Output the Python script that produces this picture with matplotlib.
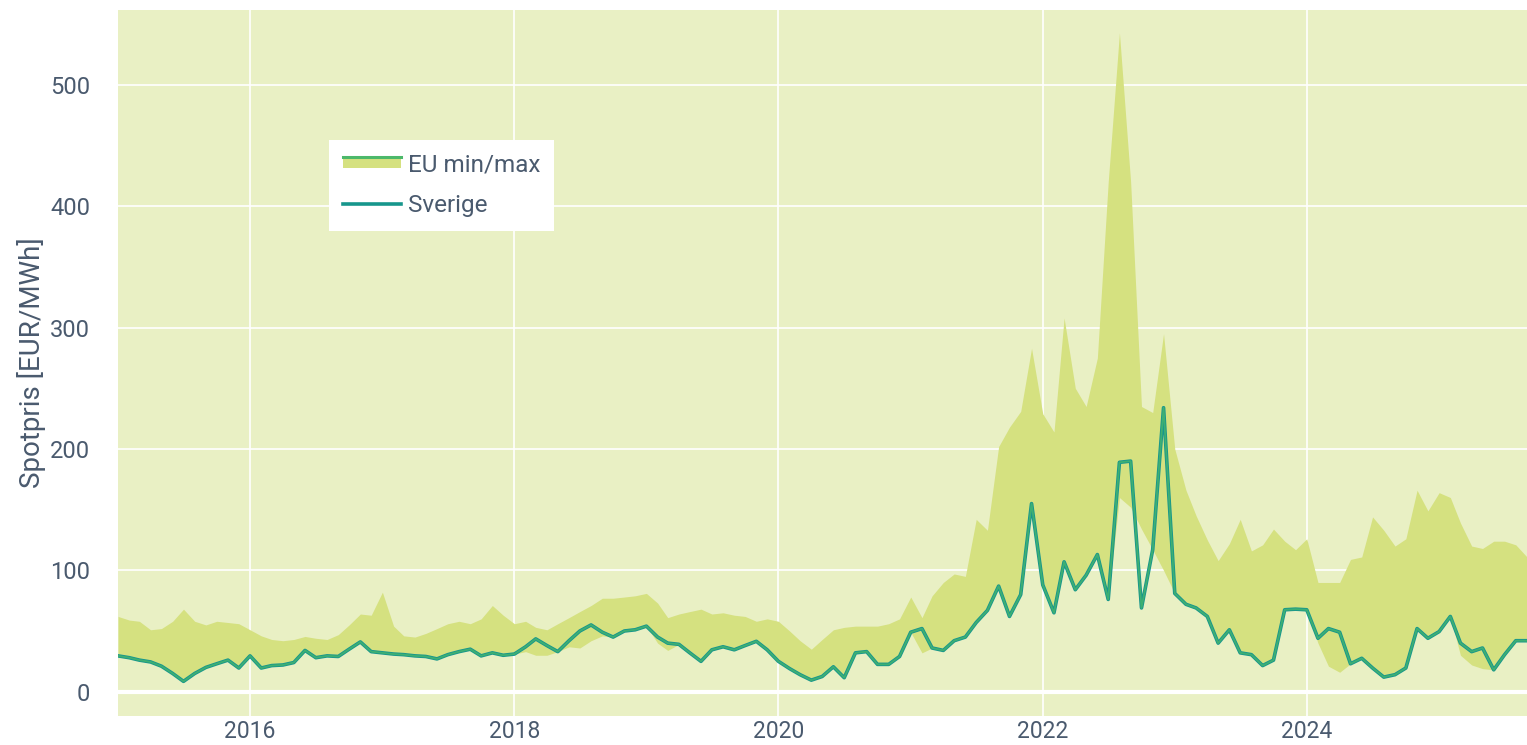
import numpy as np
import pandas as pd
import matplotlib
matplotlib.use("Agg")
import matplotlib.pyplot as plt
import matplotlib.dates as mdates
from matplotlib.patches import Rectangle, Patch
from matplotlib.lines import Line2D
from matplotlib.legend_handler import HandlerBase

plt.rcParams['font.family'] = ['Roboto', 'DejaVu Sans']

# monthly values, Jan 2015 - Sep 2025 (EUR/MWh)
months = pd.date_range('2015-01-01', periods=129, freq='MS')

sverige = [
    29.5, 28, 26, 24.5, 21, 15, 8.5, 15, 20, 23, 26, 19.5,
    29.5, 19.5, 21.5, 22, 24, 34, 28, 29.5, 29, 35, 41, 33,
    32, 31, 30.5, 29.5, 29, 27, 30.5, 33, 35, 29.5, 32, 30,
    31, 37, 43.5, 38, 33, 42, 50, 55, 49, 45, 50, 51,
    54, 45, 40, 39, 32, 25, 34.5, 37, 34.5, 38, 41.5, 34.5,
    25, 19, 14, 9.5, 12.5, 20.5, 11.5, 32, 33, 22.5, 22.5, 29,
    49, 52, 36, 34, 42, 45, 57, 67, 87, 62, 80, 155,
    88, 65, 107, 84, 96, 113, 76, 189, 190, 69, 117, 234,
    81, 72, 69, 62, 40, 51, 32, 30.5, 21.5, 26, 67.5, 68,
    67.5, 44, 52, 49, 23, 27.5, 19.5, 12, 14, 19.5, 52, 44,
    49.5, 62, 40, 33, 36, 18, 30.5, 42, 42,
]

eu_max = [
    62, 59, 58, 51, 52, 58, 68, 58, 55, 58, 57, 56,
    51, 46, 43, 42, 43, 45.5, 44, 43, 47, 55, 64, 63,
    82, 54, 46, 45, 48, 52, 56, 58, 56, 60, 71, 63,
    56, 58, 53, 51, 56, 61, 66, 71, 77, 77, 78, 79,
    81, 73, 61, 64, 66, 68, 64, 65, 63, 62, 58, 60,
    58, 50, 42, 35, 43, 51, 53, 54, 54, 54, 56, 60,
    78, 61, 79, 90, 97, 95, 142, 133, 202, 218, 231, 283,
    229, 214, 308, 250, 235, 275, 420, 543, 420, 235, 230, 295,
    200, 166, 145, 125, 108, 122, 142, 116, 121, 134, 124, 117,
    126, 90, 90, 90, 109, 111, 144, 133, 120, 126, 166, 149,
    164, 160, 139, 120, 118, 124, 124, 121, 111,
]

eu_min = [
    29.5, 28, 26, 24.5, 21, 15, 8.5, 15, 20, 23, 26, 19.5,
    29.5, 19.5, 21.5, 22, 24, 34, 28, 29.5, 29, 35, 41, 33,
    32, 31, 30.5, 29.5, 29, 27, 30.5, 33, 35, 29.5, 32, 30,
    31, 33, 30, 30, 33, 37, 36, 42, 46, 45, 50, 51,
    54, 40, 34, 39, 32, 25, 34.5, 37, 34.5, 38, 41.5, 34.5,
    25, 19, 14, 9.5, 12.5, 20.5, 11.5, 32, 33, 22.5, 22.5, 29,
    49, 32, 36, 34, 42, 45, 57, 67, 87, 62, 80, 155,
    88, 65, 107, 84, 96, 113, 76, 160, 152, 134, 117, 100,
    81, 72, 69, 62, 40, 51, 32, 30.5, 21.5, 26, 67.5, 68,
    67.5, 40, 21, 16, 23, 27.5, 19.5, 12, 14, 19.5, 52, 44,
    49.5, 62, 30, 22, 19, 18, 30.5, 42, 42,
]

bg_color = '#e9f0c4'
band_color = '#d5e180'
teal = '#17968c'
green = '#4cb86a'
text_color = '#4a5a6e'


class BandHandler(HandlerBase):
    def create_artists(self, legend, orig_handle, xdescent, ydescent,
                       width, height, fontsize, trans):
        top = -ydescent + height * 0.85
        r = Rectangle((-xdescent, -ydescent + height * 0.15), width, height * 0.7,
                      facecolor=band_color, edgecolor='none', transform=trans)
        l = Line2D([-xdescent, -xdescent + width], [top, top],
                   color=green, lw=2.2, transform=trans)
        return [r, l]


fig = plt.figure(figsize=(15.27, 7.45), dpi=100)
ax = fig.add_axes([0.0773, 0.039, 0.9227, 0.948])
ax.set_facecolor(bg_color)

ax.fill_between(months, eu_min, eu_max, color=band_color, lw=0, zorder=2)
ax.plot(months, sverige, color=teal, lw=2.6, zorder=3)
ax.plot(months, sverige, color=green, lw=1.3, alpha=0.75, zorder=4)

ax.set_xlim(months[0], months[-1])
ax.set_ylim(-20, 562)
ax.set_yticks([0, 100, 200, 300, 400, 500])
ax.xaxis.set_major_locator(mdates.YearLocator(2))
ax.xaxis.set_major_formatter(mdates.DateFormatter('%Y'))

ax.grid(True, color='white', lw=1.2, zorder=1)
ax.set_axisbelow(True)
ax.axhline(0, color='white', lw=3, zorder=1.5)
for s in ax.spines.values():
    s.set_visible(False)
ax.tick_params(axis='both', length=0, labelsize=17, labelcolor=text_color)
ax.tick_params(axis='y', pad=20)
ax.tick_params(axis='x', pad=3, labelsize=16.5)
ax.set_ylabel('Spotpris [EUR/MWh]', fontsize=20, color=text_color, labelpad=3)

band_handle = Patch(facecolor=band_color)
sv_handle = Line2D([], [], color=teal, lw=2.6)
leg = ax.legend([band_handle, sv_handle], ['EU min/max', 'Sverige'],
                handler_map={band_handle: BandHandler()},
                loc='upper left', bbox_to_anchor=(0.150, 0.816), borderaxespad=0,
                fontsize=17.5, frameon=True, fancybox=False, handlelength=2.4,
                handletextpad=0.3, labelspacing=0.75, borderpad=0.55)
leg.get_frame().set_facecolor('white')
leg.get_frame().set_edgecolor('none')
leg.get_frame().set_alpha(1)
for t in leg.get_texts():
    t.set_color(text_color)

plt.savefig('out.png', dpi=100)
